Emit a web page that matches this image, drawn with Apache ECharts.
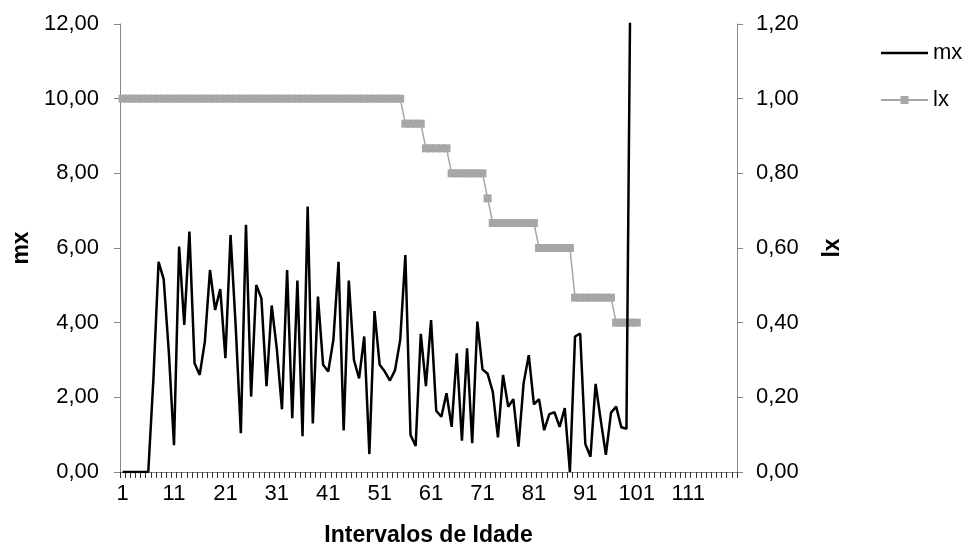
<!DOCTYPE html>
<html>
<head>
<meta charset="utf-8">
<script src="https://cdn.jsdelivr.net/npm/echarts@6/dist/echarts.min.js"></script>
<style>
html,body{margin:0;padding:0;background:#fff;}
#chart{width:968px;height:547px;}
</style>
</head>
<body>
<div id="chart"></div>
<script>
// Age categories 1..120
var categories = [];
for (var i = 1; i <= 120; i++) categories.push(String(i));

// mx values (ages 1..100)
var mx = [
  0, 0, 0, 0, 0, 0, 2.5, 5.63, 5.16, 3.2,
  0.72, 6.04, 3.94, 6.44, 2.91, 2.60, 3.49, 5.41, 4.34, 4.90,
  3.05, 6.35, 3.9, 1.04, 6.62, 2.02, 5.01, 4.65, 2.30, 4.46,
  3.3, 1.68, 5.41, 1.44, 5.13, 0.96, 7.11, 1.30, 4.70, 2.87,
  2.69, 3.54, 5.63, 1.11, 5.13, 3.0, 2.51, 3.63, 0.48, 4.31,
  2.87, 2.69, 2.45, 2.73, 3.54, 5.81, 0.99, 0.70, 3.70, 2.30,
  4.07, 1.64, 1.48, 2.11, 1.21, 3.18, 0.84, 3.31, 0.77, 4.03,
  2.75, 2.63, 2.15, 0.93, 2.60, 1.75, 1.95, 0.68, 2.38, 3.13,
  1.81, 1.95, 1.12, 1.55, 1.60, 1.21, 1.71, 0.0, 3.63, 3.71,
  0.75, 0.41, 2.36, 1.39, 0.46, 1.59, 1.75, 1.20, 1.16, 17
];

// lx values (ages 1..101)
var lx = [
  1, 1, 1, 1, 1, 1, 1, 1, 1, 1,
  1, 1, 1, 1, 1, 1, 1, 1, 1, 1,
  1, 1, 1, 1, 1, 1, 1, 1, 1, 1,
  1, 1, 1, 1, 1, 1, 1, 1, 1, 1,
  1, 1, 1, 1, 1, 1, 1, 1, 1, 1,
  1, 1, 1, 1, 1, 0.933, 0.933, 0.933, 0.933, 0.867,
  0.867, 0.867, 0.867, 0.867, 0.8, 0.8, 0.8, 0.8, 0.8, 0.8,
  0.8, 0.733, 0.667, 0.667, 0.667, 0.667, 0.667, 0.667, 0.667, 0.667,
  0.667, 0.6, 0.6, 0.6, 0.6, 0.6, 0.6, 0.6, 0.467, 0.467,
  0.467, 0.467, 0.467, 0.467, 0.467, 0.467, 0.4, 0.4, 0.4, 0.4,
  0.4
];

var leftTicks = { min: 0, max: 12, interval: 2 };
var rightTicks = { min: 0, max: 1.2, interval: 0.2 };

var FONT = 'Liberation Sans, Arial, sans-serif';
var AXIS_COLOR = '#868686';
function comma(v) { return v.toFixed(2).replace('.', ','); }

// legend icon for mx: plain line (thin slivers at top/bottom keep the bounding box 10 high)
var lineIcon = 'path://M0,0L47,0L47,0.01L0,0.01Z M0,3.75L47,3.75L47,6.25L0,6.25Z M0,9.99L47,9.99L47,10L0,10Z';

var chart = echarts.init(document.getElementById('chart'), null, { renderer: 'canvas' });
chart.setOption({
  animation: false,
  backgroundColor: '#ffffff',
  textStyle: { fontFamily: FONT },
  grid: { left: 120, right: 231, top: 24, bottom: 75, containLabel: false, outerBoundsMode: 'none' },
  legend: {
    orient: 'vertical',
    left: 875,
    top: 37,
    itemWidth: 47,
    itemHeight: 10,
    itemGap: 25,
    data: [{ name: 'mx', icon: lineIcon }, { name: 'lx' }],
    textStyle: { fontFamily: FONT, fontSize: 22, color: '#000' }
  },
  xAxis: {
    type: 'category',
    data: categories,
    boundaryGap: true,
    name: 'Intervalos de Idade',
    nameLocation: 'middle',
    nameGap: 52,
    nameTextStyle: { fontFamily: FONT, fontSize: 23, fontWeight: 'bold', color: '#000' },
    axisLine: { lineStyle: { color: AXIS_COLOR, width: 1 } },
    axisTick: { show: true, interval: 0, length: 6, lineStyle: { color: '#333', width: 1 } },
    axisLabel: { interval: 9, margin: 11, fontFamily: FONT, fontSize: 22, color: '#000' },
    splitLine: { show: false }
  },
  yAxis: [
    {
      type: 'value',
      min: leftTicks.min, max: leftTicks.max, interval: leftTicks.interval,
      position: 'left',
      name: 'mx',
      nameLocation: 'middle',
      nameRotate: 90,
      nameGap: 87,
      nameTextStyle: { fontFamily: FONT, fontSize: 23, fontWeight: 'bold', color: '#000' },
      axisLine: { show: true, lineStyle: { color: AXIS_COLOR, width: 1 } },
      axisTick: { show: true, length: 6, lineStyle: { color: AXIS_COLOR } },
      axisLabel: { margin: 21, fontFamily: FONT, fontSize: 22, color: '#000', formatter: comma },
      splitLine: { show: false }
    },
    {
      type: 'value',
      min: rightTicks.min, max: rightTicks.max, interval: rightTicks.interval,
      position: 'right',
      name: 'lx',
      nameLocation: 'middle',
      nameRotate: 90,
      nameGap: 84,
      nameTextStyle: { fontFamily: FONT, fontSize: 23, fontWeight: 'bold', color: '#000' },
      axisLine: { show: true, lineStyle: { color: AXIS_COLOR, width: 1 } },
      axisTick: { show: true, length: 6, lineStyle: { color: AXIS_COLOR } },
      axisLabel: { margin: 19, fontFamily: FONT, fontSize: 22, color: '#000', formatter: comma },
      splitLine: { show: false }
    }
  ],
  series: [
    {
      name: 'mx',
      type: 'line',
      yAxisIndex: 0,
      data: mx,
      symbol: 'none',
      showSymbol: false,
      clip: true,
      lineStyle: { color: '#000', width: 2.5 },
      itemStyle: { color: '#000' },
      z: 3
    },
    {
      name: 'lx',
      type: 'line',
      yAxisIndex: 1,
      data: lx,
      symbol: 'rect',
      symbolSize: [8, 8],
      showSymbol: true,
      showAllSymbol: true,
      lineStyle: { color: '#a6a6a6', width: 1.5 },
      itemStyle: { color: '#a6a6a6', borderWidth: 0 },
      z: 2
    }
  ]
});
</script>
</body>
</html>
